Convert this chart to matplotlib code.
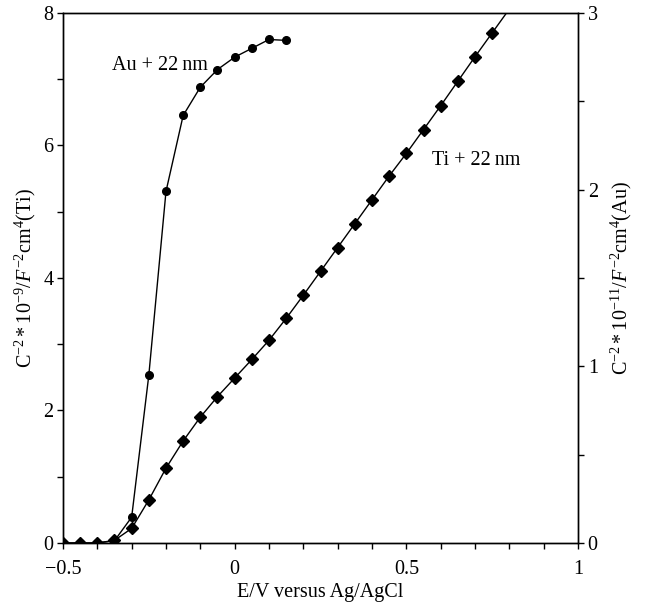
import matplotlib
matplotlib.use("Agg")
import matplotlib.pyplot as plt
from matplotlib.ticker import MultipleLocator

plt.rcParams['font.family'] = ['Liberation Serif', 'DejaVu Serif']
plt.rcParams['mathtext.fontset'] = 'custom'
plt.rcParams['mathtext.rm'] = 'Liberation Serif'
plt.rcParams['mathtext.it'] = 'Liberation Serif:italic'

# Ti + 22 nm (left axis, 10^-9)
ti_x = [-0.5, -0.45, -0.4, -0.35, -0.3, -0.25, -0.2, -0.15, -0.1, -0.05, 0.0, 0.05,
        0.1, 0.15, 0.2, 0.25, 0.3, 0.35, 0.4, 0.45, 0.5, 0.55, 0.6, 0.65, 0.7, 0.75, 0.85]
ti_y = [0.0, 0.0, 0.0, 0.04, 0.22, 0.65, 1.13, 1.54, 1.90, 2.21, 2.49, 2.77,
        3.06, 3.39, 3.74, 4.10, 4.46, 4.82, 5.18, 5.54, 5.88, 6.24, 6.60, 6.97, 7.34, 7.70, 8.42]

# Au + 22 nm (right axis, 10^-11)
au_x = [-0.5, -0.45, -0.4, -0.35, -0.3, -0.25, -0.2, -0.15, -0.1, -0.05, 0.0, 0.05, 0.1, 0.15]
au_y = [0.0, 0.0, 0.0, 0.013, 0.146, 0.95, 1.99, 2.42, 2.58, 2.68, 2.75, 2.80, 2.85, 2.845]

FS = 14.5

fig = plt.figure(figsize=(6.48, 6.13), dpi=100)
ax = fig.add_axes([0.0972, 0.1142, 0.7948, 0.8646])
ax2 = ax.twinx()

ax.plot(ti_x, ti_y, color='black', lw=1, marker='D', ms=6, zorder=3)
ax2.plot(au_x, au_y, color='black', lw=1, marker='o', ms=5.5, zorder=3)

ax.set_xlim(-0.5, 1.0)
ax.set_ylim(0, 8)
ax2.set_ylim(0, 3)

ax.set_xticks([-0.5, 0, 0.5, 1])
ax.set_xticklabels(['\u22120.5', '0', '0.5', '1'])
ax.xaxis.set_minor_locator(MultipleLocator(0.1))
ax.set_yticks([0, 2, 4, 6, 8])
ax.yaxis.set_minor_locator(MultipleLocator(1))
ax2.set_yticks([0, 1, 2, 3])
ax2.yaxis.set_minor_locator(MultipleLocator(0.5))

for a in (ax, ax2):
    a.tick_params(which='both', direction='out', labelsize=FS, width=1, length=4, pad=3)
    for s in a.spines.values():
        s.set_linewidth(1)
ax.tick_params(axis='x', which='both', pad=8)

ax.set_xlabel('E/V versus Ag/AgCl', fontsize=FS, labelpad=3)
ax.set_ylabel(r'$\mathrm{C}^{-2}*10^{-9}/F^{-2}\mathrm{cm}^{4}$(Ti)', fontsize=FS, labelpad=4)
ax2.set_ylabel(r'$\mathrm{C}^{-2}*10^{-11}/F^{-2}\mathrm{cm}^{4}$(Au)', fontsize=FS, labelpad=8)

ax.text(-0.217, 7.21, 'Au + 22\u2009nm', fontsize=FS, ha='center', va='center')
ax.text(0.703, 5.78, 'Ti + 22\u2009nm', fontsize=FS, ha='center', va='center')

fig.savefig('out.png', dpi=100)
